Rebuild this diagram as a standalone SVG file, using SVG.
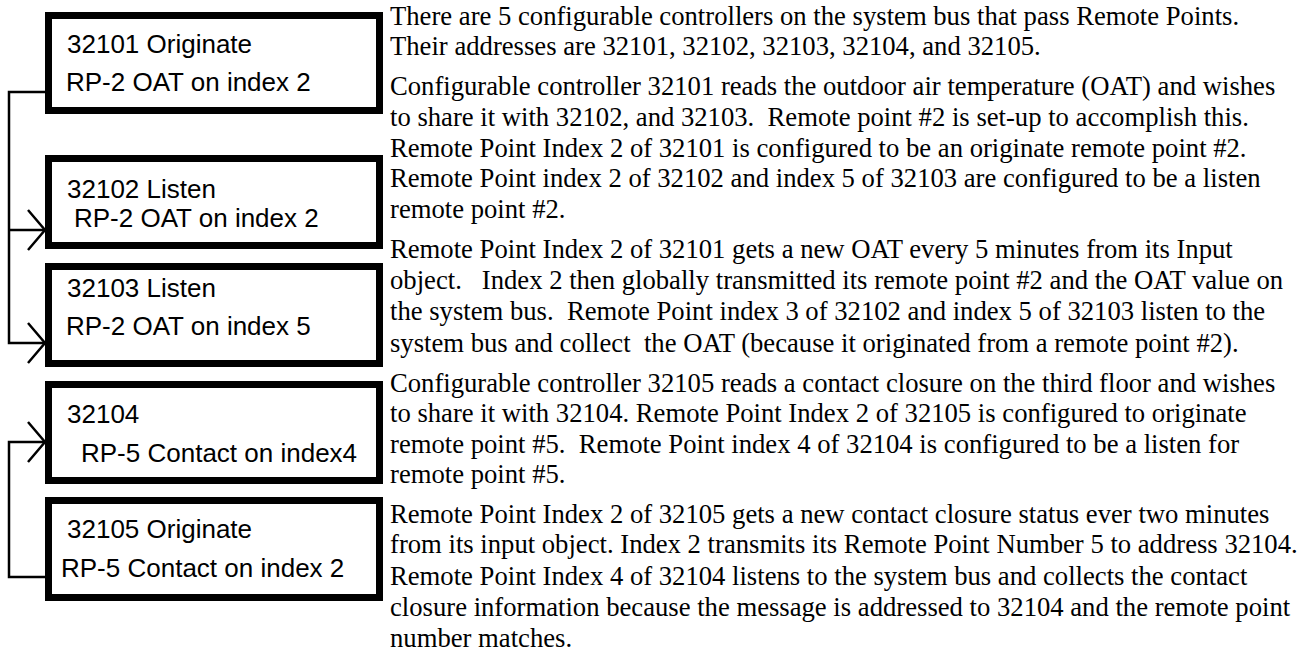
<svg xmlns="http://www.w3.org/2000/svg" width="1312" height="653" viewBox="0 0 1312 653">
<style>
.box{fill:#fff;stroke:#000;stroke-width:7}
.bt{font-family:"Liberation Sans",Arial,sans-serif;font-size:26px;fill:#000}
.pt{font-family:"Liberation Serif","Times New Roman",serif;font-size:26.67px;fill:#000;white-space:pre}
.conn{fill:none;stroke:#000;stroke-width:2.5}
</style>
<defs>
<marker id="arr" markerUnits="userSpaceOnUse" viewBox="-2 -2 21 44" refX="17" refY="20" markerWidth="21" markerHeight="44" orient="auto" overflow="visible">
<path d="M0,0 L17,20 L0,40" fill="none" stroke="#000" stroke-width="2.5"/>
</marker>
</defs>
<rect width="1312" height="653" fill="#fff"/>
<g id="connectors">
<path class="conn" d="M45,92 H9 V343 H45" marker-end="url(#arr)"/>
<path class="conn" d="M9,230 H45" marker-end="url(#arr)"/>
<path class="conn" d="M45,577 H9 V442 H45" marker-end="url(#arr)"/>
</g>
<g id="n32101">
<rect class="box" x="48.5" y="15.5" width="331" height="95"/>
<text class="bt" x="67" y="53">32101 Originate</text>
<text class="bt" x="66" y="91">RP-2 OAT on index 2</text>
</g>
<g id="n32102">
<rect class="box" x="48.5" y="158.5" width="331" height="87"/>
<text class="bt" x="67" y="198">32102 Listen</text>
<text class="bt" x="74" y="227">RP-2 OAT on index 2</text>
</g>
<g id="n32103">
<rect class="box" x="48.5" y="266.5" width="331" height="97"/>
<text class="bt" x="67" y="297">32103 Listen</text>
<text class="bt" x="66" y="335">RP-2 OAT on index 5</text>
</g>
<g id="n32104">
<rect class="box" x="48.5" y="384.5" width="331" height="96"/>
<text class="bt" x="67" y="423">32104</text>
<text class="bt" x="81" y="462">RP-5 Contact on index4</text>
</g>
<g id="n32105">
<rect class="box" x="48.5" y="500.5" width="331" height="97"/>
<text class="bt" x="67" y="538">32105 Originate</text>
<text class="bt" x="61" y="577">RP-5 Contact on index 2</text>
</g>
<g id="description">
<text class="pt" x="390" y="25">There are 5 configurable controllers on the system bus that pass Remote Points.</text>
<text class="pt" x="390" y="55">Their addresses are 32101, 32102, 32103, 32104, and 32105.</text>
<text class="pt" x="390" y="95">Configurable controller 32101 reads the outdoor air temperature (OAT) and wishes</text>
<text class="pt" x="390" y="126">to share it with 32102, and 32103.  Remote point #2 is set-up to accomplish this.</text>
<text class="pt" x="390" y="157">Remote Point Index 2 of 32101 is configured to be an originate remote point #2.</text>
<text class="pt" x="390" y="187">Remote Point index 2 of 32102 and index 5 of 32103 are configured to be a listen</text>
<text class="pt" x="390" y="218">remote point #2.</text>
<text class="pt" x="390" y="258">Remote Point Index 2 of 32101 gets a new OAT every 5 minutes from its Input</text>
<text class="pt" x="390" y="289">object.   Index 2 then globally transmitted its remote point #2 and the OAT value on</text>
<text class="pt" x="390" y="320">the system bus.  Remote Point index 3 of 32102 and index 5 of 32103 listen to the</text>
<text class="pt" x="390" y="352">system bus and collect  the OAT (because it originated from a remote point #2).</text>
<text class="pt" x="390" y="392">Configurable controller 32105 reads a contact closure on the third floor and wishes</text>
<text class="pt" x="390" y="422">to share it with 32104. Remote Point Index 2 of 32105 is configured to originate</text>
<text class="pt" x="390" y="453">remote point #5.  Remote Point index 4 of 32104 is configured to be a listen for</text>
<text class="pt" x="390" y="483">remote point #5.</text>
<text class="pt" x="390" y="523">Remote Point Index 2 of 32105 gets a new contact closure status ever two minutes</text>
<text class="pt" x="390" y="553">from its input object. Index 2 transmits its Remote Point Number 5 to address 32104.</text>
<text class="pt" x="390" y="585">Remote Point Index 4 of 32104 listens to the system bus and collects the contact</text>
<text class="pt" x="390" y="616">closure information because the message is addressed to 32104 and the remote point</text>
<text class="pt" x="390" y="647">number matches.</text>
</g>
</svg>
